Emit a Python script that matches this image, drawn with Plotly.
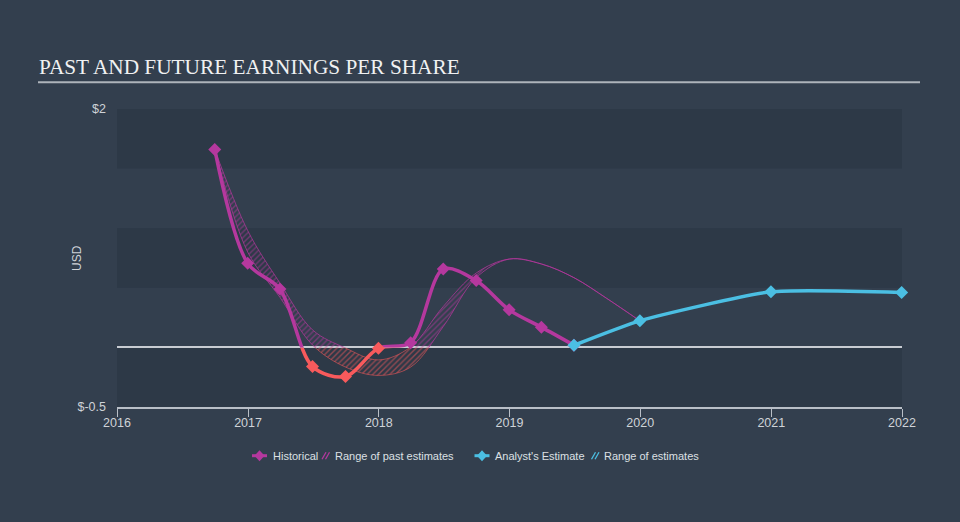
import plotly.graph_objects as go

# ---------------- data ----------------
hist_dates = ["2016-09-30", "2016-12-31", "2017-03-31", "2017-06-30", "2017-09-30",
              "2017-12-31", "2018-03-31", "2018-06-30", "2018-09-30", "2018-12-31",
              "2019-03-31", "2019-06-30"]
hist_eps = [1.66, 0.705, 0.489, -0.161, -0.245, -0.007, 0.04, 0.657, 0.561, 0.315, 0.17, 0.018]

fc_dates = ["2019-06-30", "2019-12-31", "2020-12-31", "2021-12-31"]
fc_eps = [0.018, 0.223, 0.466, 0.461]

band_dates = ["2016-09-30", "2016-12-31", "2017-03-31", "2017-06-30", "2017-09-30",
              "2017-12-31", "2018-03-31", "2018-06-30", "2018-09-30", "2018-12-31",
              "2019-03-31", "2019-06-30", "2019-09-30", "2019-12-31"]
band_low = [1.66, 0.80, 0.42, 0.02, -0.165, -0.235, -0.165, 0.175, 0.585, 0.741,
            0.70, 0.585, 0.41, 0.223]
band_high = [1.66, 0.98, 0.54, 0.147, -0.005, -0.105, 0.004, 0.343, 0.624, 0.741,
             0.70, 0.585, 0.41, 0.223]

x_tick_dates = ["2016-01-01", "2017-01-01", "2018-01-01", "2019-01-01",
                "2020-01-01", "2021-01-01", "2022-01-01"]
x_tick_labels = ["2016", "2017", "2018", "2019", "2020", "2021", "2022"]
y_range = [-0.5, 2.0]
y_ticks = [-0.5, 2.0]
y_tick_labels = ["$-0.5", "$2"]
band_step = 0.5

# ---------------- style ----------------
MAG = "#b5389e"
RED = "#f85a5c"
BLUE = "#4bbfe3"
BG = "#333f4e"
BAND = "#2d3947"
AXIS = "#b9bfc7"
TXT = "#cfd3d8"
SANS = "Liberation Sans, Arial, sans-serif"
SERIF = "Liberation Serif, Times New Roman, serif"

L, R, T, B = 117, 58, 109, 115
W, H = 960, 522
PW, PH = W - L - R, H - T - B


def px2x(px):
    return (px - L) / PW


def py2y(py):
    return (H - B - py) / PH


zero_frac = (0 - y_range[0]) / (y_range[1] - y_range[0])

fig = go.Figure()

# empty trace on main axes
fig.add_trace(go.Scatter(x=[], y=[], xaxis="x", yaxis="y", showlegend=False))

# bottom (negative) subplot: red
fig.add_trace(go.Scatter(x=band_dates, y=band_low, xaxis="x2", yaxis="y2", mode="lines",
                         line=dict(color="rgba(248,90,92,0.7)", width=0.8, shape="spline"),
                         showlegend=False, hoverinfo="skip"))
fig.add_trace(go.Scatter(x=band_dates, y=band_high, xaxis="x2", yaxis="y2", mode="lines",
                         line=dict(color="rgba(248,90,92,0.7)", width=0.8, shape="spline"),
                         fill="tonexty", fillcolor="rgba(0,0,0,0)",
                         fillpattern=dict(shape="/", fgcolor=RED, bgcolor="rgba(0,0,0,0)",
                                          size=4, solidity=0.35),
                         showlegend=False, hoverinfo="skip"))
fig.add_trace(go.Scatter(x=hist_dates, y=hist_eps, xaxis="x2", yaxis="y2", mode="lines",
                         line=dict(color=RED, width=3.5, shape="spline", smoothing=0.9),
                         showlegend=False))

# top (positive) subplot: magenta
fig.add_trace(go.Scatter(x=band_dates, y=band_low, xaxis="x3", yaxis="y3", mode="lines",
                         line=dict(color="rgba(181,56,158,0.8)", width=0.9, shape="spline"),
                         showlegend=False, hoverinfo="skip"))
fig.add_trace(go.Scatter(x=band_dates, y=band_high, xaxis="x3", yaxis="y3", mode="lines",
                         line=dict(color="rgba(181,56,158,0.8)", width=0.9, shape="spline"),
                         fill="tonexty", fillcolor="rgba(0,0,0,0)",
                         fillpattern=dict(shape="/", fgcolor=MAG, bgcolor="rgba(0,0,0,0)",
                                          size=4, solidity=0.35),
                         showlegend=False, hoverinfo="skip"))
fig.add_trace(go.Scatter(x=hist_dates, y=hist_eps, xaxis="x3", yaxis="y3", mode="lines",
                         line=dict(color=MAG, width=3.5, shape="spline", smoothing=0.9),
                         showlegend=False))

# markers + forecast on top-most subplot
fig.add_trace(go.Scatter(x=hist_dates, y=hist_eps, xaxis="x4", yaxis="y4", mode="markers",
                         marker=dict(symbol="diamond", size=10,
                                     color=[RED if v < 0 else MAG for v in hist_eps]),
                         cliponaxis=False, showlegend=False))
fig.add_trace(go.Scatter(x=fc_dates, y=fc_eps, xaxis="x4", yaxis="y4", mode="lines+markers",
                         line=dict(color=BLUE, width=3.5, shape="spline", smoothing=0.55),
                         marker=dict(symbol="diamond", size=10, color=BLUE),
                         cliponaxis=False, showlegend=False))

x_range = [x_tick_dates[0], x_tick_dates[-1]]
hidden_x = dict(type="date", range=x_range, domain=[0, 1], visible=False)

fig.update_layout(
    width=W, height=H,
    margin=dict(l=L, r=R, t=T, b=B),
    paper_bgcolor=BG, plot_bgcolor="rgba(0,0,0,0)",
    showlegend=False,
    xaxis=dict(type="date", range=x_range, domain=[0, 1], anchor="y",
               showgrid=False, zeroline=False, showline=True, linecolor=AXIS, linewidth=1.5,
               ticks="outside", ticklen=8, tickcolor=AXIS, tickwidth=1,
               tickvals=x_tick_dates, ticktext=x_tick_labels, ticklabelstandoff=-5,
               tickfont=dict(family=SANS, size=12.5, color=TXT)),
    yaxis=dict(range=y_range, domain=[0, 1], anchor="x", showgrid=False,
               zeroline=True, zerolinecolor="#c8ccd2", zerolinewidth=1.5,
               showline=False, ticks="", tickvals=y_ticks, ticktext=y_tick_labels,
               tickfont=dict(family=SANS, size=12.5, color=TXT), ticklabelstandoff=10),
    xaxis2=dict(hidden_x, anchor="y2"),
    yaxis2=dict(range=[y_range[0], 0], domain=[0, zero_frac], anchor="x2", visible=False),
    xaxis3=dict(hidden_x, anchor="y3"),
    yaxis3=dict(range=[0, y_range[1]], domain=[zero_frac, 1], anchor="x3", visible=False),
    xaxis4=dict(hidden_x, anchor="y4"),
    yaxis4=dict(range=y_range, domain=[0, 1], anchor="x4", visible=False),
)

shapes = []
# alternating background bands
k = 0
v = y_range[1]
while v - band_step >= y_range[0] - 1e-9:
    if k % 2 == 0:
        shapes.append(dict(type="rect", xref="paper", yref="y", x0=0, x1=1,
                           y0=v - band_step, y1=v, fillcolor=BAND, line=dict(width=0),
                           layer="below"))
    v -= band_step
    k += 1

# title underline
shapes.append(dict(type="line", xref="paper", yref="paper", x0=px2x(38), x1=px2x(920),
                   y0=py2y(82.3), y1=py2y(82.3), line=dict(color="#aeb4bb", width=2)))

# legend icons
LY = 455.7


def diamond_path(cx, cy, hw, hh):
    pts = [(cx, cy - hh), (cx + hw, cy), (cx, cy + hh), (cx - hw, cy)]
    return "M " + " L ".join(f"{px2x(a)},{py2y(b)}" for a, b in pts) + " Z"


for (x0, x1, cx, col) in [(252, 267, 259.5, MAG), (474.5, 489.5, 482, BLUE)]:
    shapes.append(dict(type="line", xref="paper", yref="paper", x0=px2x(x0), x1=px2x(x1),
                       y0=py2y(LY), y1=py2y(LY), line=dict(color=col, width=3)))
    shapes.append(dict(type="path", xref="paper", yref="paper", path=diamond_path(cx, LY, 5, 5.5),
                       fillcolor=col, line=dict(color=col, width=0)))

for (hx, col) in [(322, MAG), (591.5, BLUE)]:
    for off in (0, 3.5):
        shapes.append(dict(type="line", xref="paper", yref="paper",
                           x0=px2x(hx + off), x1=px2x(hx + off + 4),
                           y0=py2y(LY + 3.5), y1=py2y(LY - 3.5),
                           line=dict(color=col, width=1.3)))

fig.update_layout(shapes=shapes)

annotations = [
    dict(text="PAST AND FUTURE EARNINGS PER SHARE", xref="paper", yref="paper",
         x=px2x(37), y=py2y(67), xanchor="left", yanchor="middle", showarrow=False,
         font=dict(family=SERIF, size=21.3, color="#f0f1f2")),
    dict(text="USD", xref="paper", yref="paper", x=px2x(77), y=py2y(258),
         xanchor="center", yanchor="middle", textangle=-90, showarrow=False,
         font=dict(family=SANS, size=12, color=TXT)),
]
for (tx, label) in [(271.5, "Historical"), (334, "Range of past estimates"),
                    (494, "Analyst's Estimate"), (603, "Range of estimates")]:
    annotations.append(dict(text=label, xref="paper", yref="paper", x=px2x(tx), y=py2y(LY),
                            xanchor="left", yanchor="middle", showarrow=False,
                            xshift=-1, font=dict(family=SANS, size=11, color="#dde0e4")))
fig.update_layout(annotations=annotations)

fig.write_html("out.html")
